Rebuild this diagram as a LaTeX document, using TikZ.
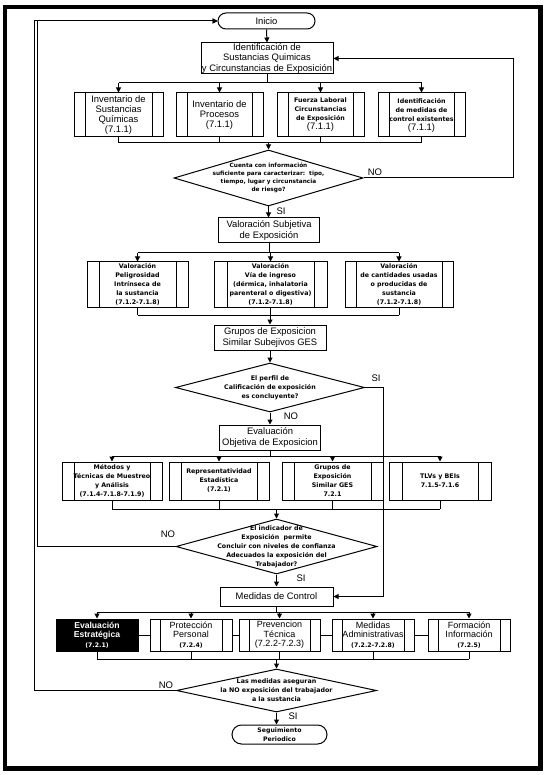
\documentclass[tikz,border=0pt]{standalone}
\usepackage{fontspec}
\setmainfont{Liberation Sans}
\newfontfamily\smf{DejaVu Sans}
\usetikzlibrary{arrows.meta,shapes.geometric,shapes.misc}
\newcommand\fbig{\fontsize{9.4}{10.2}\selectfont}
\newcommand\fe{\fontsize{9}{9.5}\selectfont}
\newcommand\feb{\fontsize{8.6}{9.5}\selectfont\bfseries}
\newcommand\fsb{\smf\fontsize{6.3}{9}\selectfont\bfseries}
\newcommand\fxs{\smf\fontsize{5.8}{8}\selectfont\bfseries}
\newcommand\fes{\smf\fontsize{6.2}{9}\selectfont\bfseries}
\newcommand\flab{\fontsize{9.5}{10}\selectfont}
\begin{document}
\begin{tikzpicture}[x=1pt,y=-1pt,line width=1pt,
  box/.style={draw, rectangle, inner sep=0pt, align=center, font=\fbig},
  sub/.style={box, path picture={
     \draw ([xshift=#1]path picture bounding box.north west) -- ([xshift=#1]path picture bounding box.south west);
     \draw ([xshift=-#1]path picture bounding box.north east) -- ([xshift=-#1]path picture bounding box.south east);}},
  sub/.default=11pt,
  term/.style={draw, rounded rectangle, inner sep=0pt, align=center},
  dia/.style={draw, diamond, inner sep=0pt},
  dtext/.style={inner sep=0pt, align=center},
  arr/.style={-{Triangle[length=5pt,width=5pt]}},
  lbl/.style={font=\flab, inner sep=0pt}]
\useasboundingbox (0,0) rectangle (546,775);
\draw[line width=4.4pt] (4.7,7) rectangle (540.5,768.3);

% ---- top
\node[term, minimum width=97pt, minimum height=16pt, font=\fbig] (inicio) at (266.5,21) {Inicio};
\node[box, minimum width=132pt, minimum height=31pt] (ident) at (267,58.5) {Identificación de\\Sustancias Quimicas\\y Circunstancias de Exposición};
\draw[arr] (inicio.south) -- (ident.north);

\node[sub, minimum width=89pt, minimum height=44pt] (b1) at (118.5,115) {Inventario de\\Sustancias\\Químicas\\(7.1.1)};
\node[sub, minimum width=87pt, minimum height=44pt] (b2) at (219.5,115) {Inventario de\\Procesos\\(7.1.1)};
\node[sub, minimum width=87pt, minimum height=44pt, font=\fsb] (b3) at (320.5,115) {Fuerza Laboral\\Circunstancias\\de Exposición\\\rmfamily\fbig\mdseries (7.1.1)};
\node[sub, minimum width=87pt, minimum height=44pt, font=\fsb] (b4) at (421.5,115) {Identificación\\de medidas de\\control existentes\\\rmfamily\fbig\mdseries (7.1.1)};

\coordinate (bus1) at (0,83);
\coordinate (bus2) at (0,143);
\draw (ident.south) -- (ident.south |- bus1);
\draw (b1.north |- bus1) -- (b4.north |- bus1);
\foreach \n in {b1,b2,b3,b4} {
  \draw[arr] (\n.north |- bus1) -- (\n.north);
  \draw (\n.south) -- (\n.south |- bus2);
}
\draw (b1.south |- bus2) -- (b4.south |- bus2);

\node[dia, minimum width=189pt, minimum height=56pt] (d1) at (268.5,178) {};
\node[dtext, font=\fxs] (d1t) at (d1.center) {Cuenta con información\\suficiente para caracterizar:\ \ tipo,\\tiempo, lugar y circunstancia\\de riesgo?};
\draw[arr] (d1.north |- bus2) -- (d1.north);

\coordinate (r1) at (513,0);
\draw[arr] (d1.east) -- (d1.east -| r1) |- (ident.east);
\node[lbl] (no1) at (375,172) {NO};

% ---- subjective
\node[box, minimum width=101pt, minimum height=25pt] (vs) at (269,230.5) {Valoración Subjetiva\\de Exposición};
\draw[arr] (d1.south) -- (d1.south |- vs.north);
\node[lbl] (si1) at (281,211) {SI};

\node[sub=12pt, minimum width=101pt, minimum height=45pt, font=\fsb] (va) at (137.5,284.5) {Valoración\\Peligrosidad\\Intrínseca de\\la sustancia\\(7.1.2-7.1.8)};
\node[sub=13pt, minimum width=113pt, minimum height=45pt, font=\fsb] (vb) at (270.5,284.5) {Valoración\\Vía de ingreso\\(dérmica, inhalatoria\\parenteral o digestiva)\\(7.1.2-7.1.8)};
\node[sub=11pt, minimum width=108pt, minimum height=45pt, font=\fsb] (vc) at (399,284.5) {Valoración\\de cantidades usadas\\o producidas de\\sustancia\\(7.1.2-7.1.8)};

\coordinate (bus3) at (0,253);
\coordinate (bus4) at (0,315);
\draw (vs.south) -- (vs.south |- bus3);
\draw (va.north |- bus3) -- (vc.north |- bus3);
\foreach \n in {va,vb,vc} {
  \draw[arr] (\n.north |- bus3) -- (\n.north);
  \draw (\n.south) -- (\n.south |- bus4);
}
\draw (va.south |- bus4) -- (vc.south |- bus4);

\node[box, minimum width=112pt, minimum height=25pt] (ges) at (270,337.5) {Grupos de Exposicion\\Similar Subejivos GES};
\draw[arr] (ges.north |- bus4) -- (ges.north);

\node[dia, minimum width=189pt, minimum height=49pt] (d2) at (270,387.5) {};
\node[dtext, font=\fsb] (d2t) at (d2.center) {El perfil de\\Calificación de exposición\\es concluyente?};
\draw[arr] (ges.south) -- (d2.north);
\node[lbl] (si2) at (376,378) {SI};

% ---- objective
\node[box, minimum width=101pt, minimum height=25pt] (eo) at (270,437.5) {Evaluación\\Objetiva de Exposicion};
\draw[arr] (d2.south) -- (eo.north);
\node[lbl] (no2) at (291,416) {NO};

\node[sub=12pt, minimum width=100pt, minimum height=38pt, font=\fsb] (m1) at (112,481) {Métodos y\\Técnicas de Muestreo\\y Análisis\\(7.1.4-7.1.8-7.1.9)};
\node[sub=12pt, minimum width=100pt, minimum height=38pt, font=\fsb] (m2) at (219,481) {Representatividad\\Estadística\\(7.2.1)};
\node[sub=12pt, minimum width=101pt, minimum height=38pt, font=\fsb] (m3) at (332.5,481) {Grupos de\\Exposición\\Similar GES\\7.2.1};
\node[sub=13pt, minimum width=102pt, minimum height=38pt, font=\fsb] (m4) at (440,481) {TLVs y BEIs\\7.1.5-7.1.6};

\coordinate (bus5) at (0,456);
\coordinate (bus6) at (0,509);
\draw (eo.south) -- (eo.south |- bus5);
\draw (m1.north |- bus5) -- (m4.north |- bus5);
\foreach \n in {m1,m2,m3,m4} {
  \draw[arr] (\n.north |- bus5) -- (\n.north);
  \draw (\n.south) -- (\n.south |- bus6);
}
\draw (m1.south |- bus6) -- (m4.south |- bus6);

\node[dia, minimum width=201pt, minimum height=55pt] (d3) at (276.5,546.5) {};
\node[dtext, font=\fsb] (d3t) at (d3.center) {El indicador de\\Exposición\ \ permite\\Concluir con niveles de confianza\\Adecuados la exposición del\\Trabajador?};
\draw[arr] (d3.north |- bus6) -- (d3.north);
\node[lbl] (no3) at (168,534) {NO};

% ---- control
\node[box, minimum width=113pt, minimum height=19pt] (mc) at (276.5,596.5) {Medidas de Control};
\draw[arr] (d3.south) -- (mc.north);
\node[lbl] (si3) at (301,578) {SI};

\coordinate (r2) at (383,0);
\draw[arr] (d2.east) -- (d2.east -| r2) |- (mc.east);

\node[box, fill=black, text=white, minimum width=82pt, minimum height=32pt, font=\feb] (e1) at (97,635) {Evaluación\\Estratégica\\\fes (7.2.1)};
\node[sub=10pt, minimum width=82pt, minimum height=32pt, font=\fe] (e2) at (191,635) {Protección\\Personal\\\fes (7.2.4)};
\node[sub=10pt, minimum width=81pt, minimum height=32pt, font=\fe] (e3) at (279.5,635) {Prevencion\\Técnica\\(7.2.2-7.2.3)};
\node[sub=10pt, minimum width=82pt, minimum height=32pt, font=\fe] (e4) at (373,635) {Medidas\\Administrativas\\\fes (7.2.2-7.2.8)};
\node[sub=10pt, minimum width=82pt, minimum height=32pt, font=\fe] (e5) at (469,635) {Formación\\Información\\\fes (7.2.5)};

\coordinate (bus7) at (0,612);
\coordinate (bus8) at (0,659);
\draw (mc.south) -- (mc.south |- bus7);
\draw (e1.north |- bus7) -- (e5.north |- bus7);
\foreach \n in {e1,e2,e3,e4,e5} {
  \draw[arr] (\n.north |- bus7) -- (\n.north);
  \draw (\n.south) -- (\n.south |- bus8);
}
\draw (e1.south |- bus8) -- (e5.south |- bus8);
\draw (e1.east) -- (e2.west);
\draw (e2.east) -- (e3.west);
\draw (e3.east) -- (e4.west);
\draw (e4.east) -- (e5.west);

\node[dia, minimum width=200pt, minimum height=43pt] (d4) at (276.5,690.5) {};
\node[dtext, font=\fsb] (d4t) at (d4.center) {Las medidas aseguran\\la NO exposición del trabajador\\a la sustancia};
\draw[arr] (d4.north |- bus8) -- (d4.north);
\node[lbl] (no4) at (166,685) {NO};

\node[term, minimum width=95pt, minimum height=19pt, font=\fes] (seg) at (279.5,734.5) {Seguimiento\\Periodico};
\draw[arr] (d4.south) -- (d4.south |- seg.north);
\node[lbl] (si4) at (293,716) {SI};

% ---- loops back to Inicio
\coordinate (l1) at (37,0);
\coordinate (l2) at (34,0);
\draw[arr] (d3.west) -- (d3.west -| l1) |- (inicio.west);
\draw[arr] (d4.west) -- (d4.west -| l2) |- (inicio.west);
\end{tikzpicture}
\end{document}
